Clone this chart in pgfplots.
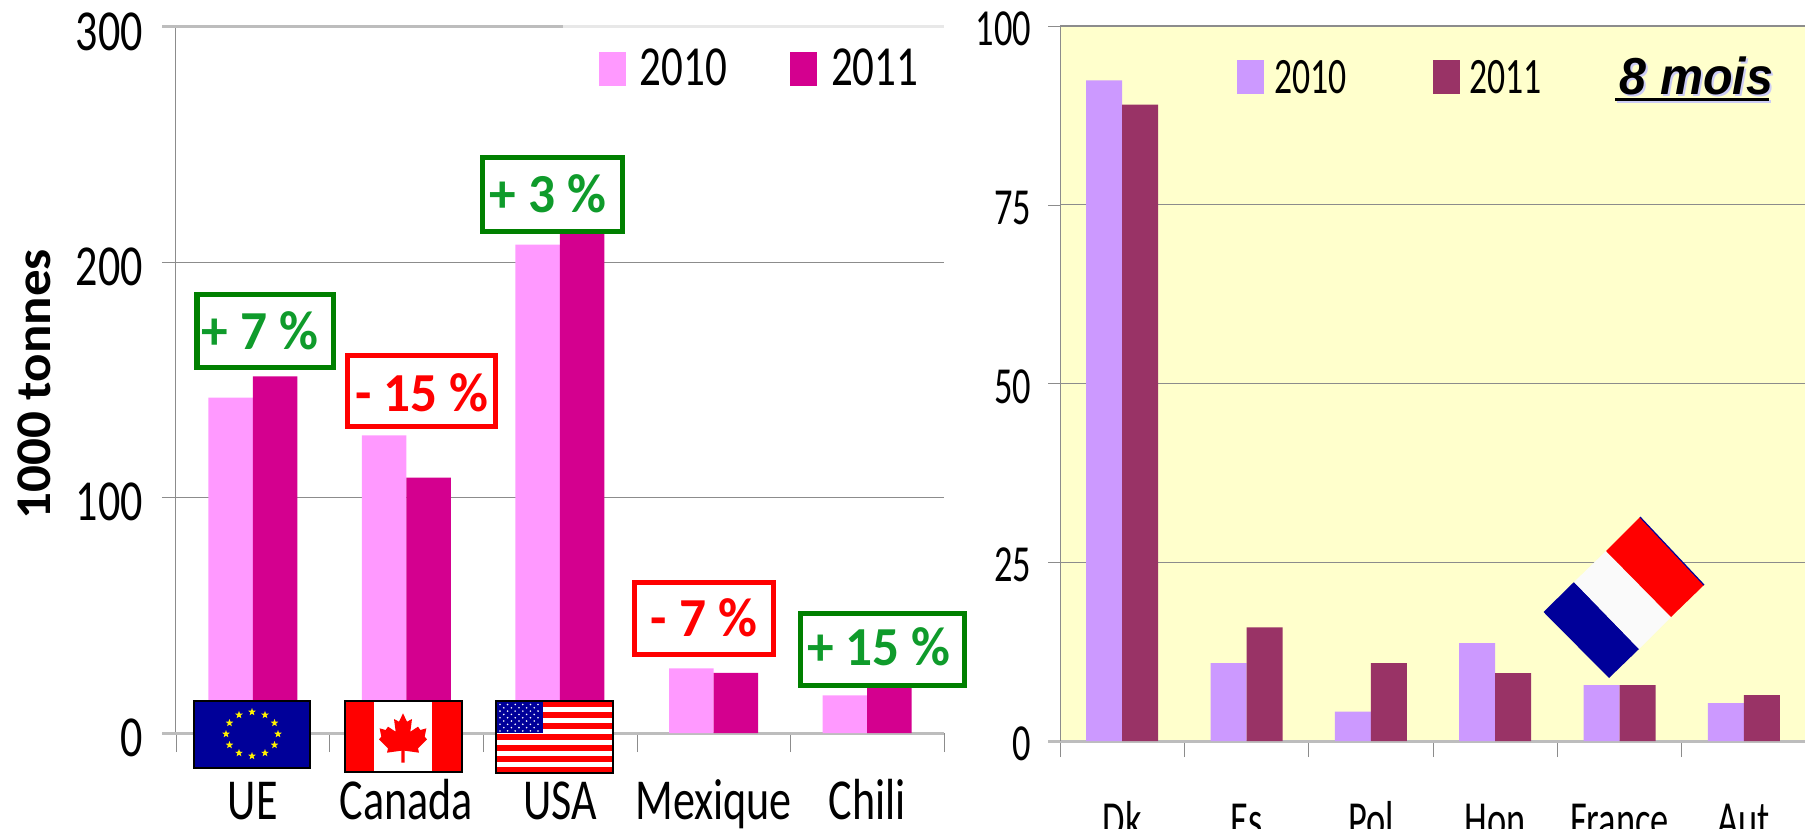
\documentclass[border=0pt]{standalone}
\usepackage{pgfplots}
\pgfplotsset{compat=1.18}
\usepackage{fontspec}
\usetikzlibrary{shapes.geometric}
\setmainfont{Carlito}
\newfontfamily\lfont[FakeStretch=0.76]{Carlito}
\newfontfamily\rfont[FakeStretch=0.70]{Carlito}
\newfontfamily\ylabfont[FakeStretch=1.06]{Carlito}
\newfontfamily\boxfont[FakeStretch=0.97]{Carlito}
\newfontfamily\arialf[FakeStretch=0.93]{Liberation Sans}
\definecolor{lA}{HTML}{FF99FF}
\definecolor{lB}{HTML}{D4008F}
\definecolor{rA}{HTML}{CC99FF}
\definecolor{rB}{HTML}{993366}
\definecolor{bg}{HTML}{FFFFCC}
\definecolor{axg}{HTML}{BDBDBD}
\definecolor{grd}{HTML}{8C8C8C}
\definecolor{gbox}{HTML}{008000}
\definecolor{gtxt}{HTML}{0F9B2B}
\definecolor{fblue}{HTML}{000099}
\pgfplotstableread{
x a b
0 142.5 151.5
1 126.5 108.5
2 207.5 214
3 27.5 25.5
4 16 19.5
}\lefttab
\pgfplotstableread{
x a b
0 92.4 89.0
1 10.9 15.9
2 4.1 10.9
3 13.7 9.5
4 7.8 7.8
5 5.3 6.4
}\righttab
\pgfplotsset{common/.style={
  scale only axis, ybar=0pt, axis x line*=bottom, axis y line*=left,
  xmin=-0.5, xtick=data, ymin=0,
  xtick style={draw=none}, ytick style={draw=grd},
  minor x tick style={draw=grd},
  tick align=outside,
  ymajorgrids, y grid style={draw=grd, line width=0.6pt},
  y axis line style={draw=grd,line width=0.5pt,-},
  x axis line style={draw=axg,line width=1.5pt,-},
  /pgf/number format/assume math mode=true,
  legend cell align=left,
  legend image code/.code={\path[#1,draw=none] (0pt,-0.5pt) rectangle (13.5pt,16.5pt);},
}}
\begin{document}
\begin{tikzpicture}
\path[use as bounding box, clip] (0,0) rectangle (902.5pt,-414.5pt);
\begin{axis}[common, at={(88pt,-366.5pt)}, anchor=south west,
  width=384pt, height=353pt, xmax=4.5, ymax=300,
  bar width=22.25pt,
  ytick={0,100,200,300}, xticklabels={UE,Canada,USA,Mexique,Chili},
  minor xtick={-0.5,0.5,...,4.5}, minor tick length=9.5pt, major tick length=7pt,
  yticklabel style={font=\lfont\fontsize{29}{32}\selectfont, xshift=-6pt, yshift=-2.25pt},
  xticklabel style={font=\lfont\fontsize{29}{32}\selectfont, anchor=base, yshift=-36pt},
  ylabel={\textbf{1000 tonnes}},
  y label style={font=\ylabfont\fontsize{25}{28}\selectfont, at={(axis description cs:-0.184,0.494)}, anchor=center, rotate=0},
  legend columns=2,
  legend style={at={(rel axis cs:0.55,0.970)}, anchor=north west, draw=none, fill=none,
    inner sep=0pt, font=\lfont\fontsize{28.3}{32}\selectfont,
    nodes={inner sep=0pt, anchor=base west},
    /tikz/every even column/.append style={column sep=31.5pt},
    /tikz/every odd column/.append style={column sep=7pt}},
]
\addplot[draw=none, fill=lA] table[x=x,y=a] {\lefttab};
\addplot[draw=none, fill=lB] table[x=x,y=b] {\lefttab};
\legend{2010,2011}
\end{axis}
\begin{axis}[common, at={(530pt,-370.5pt)}, anchor=south west,
  width=373pt, height=357.5pt, xmax=5.5, ymax=100,
  bar width=18pt,
  axis background/.style={fill=bg},
  ytick={0,25,50,75,100}, xticklabels={Dk,Es,Pol,Hon,France,Aut},
  minor xtick={-0.5,0.5,...,5.5}, minor tick length=8pt, major tick length=6pt,
  yticklabel style={font=\rfont\fontsize{26}{28}\selectfont, xshift=-5pt, yshift=-1.5pt},
  xticklabel style={font=\rfont\fontsize{26}{28}\selectfont, anchor=base, yshift=-42pt},
  legend columns=2,
  legend style={at={(rel axis cs:0.237,0.953)}, anchor=north west, draw=none, fill=none,
    inner sep=0pt, font=\rfont\fontsize{25.5}{28}\selectfont,
    nodes={inner sep=0pt, anchor=base west},
    /tikz/every even column/.append style={column sep=43pt},
    /tikz/every odd column/.append style={column sep=5pt}},
]
\addplot[draw=none, fill=rA] table[x=x,y=a] {\righttab};
\addplot[draw=none, fill=rB] table[x=x,y=b] {\righttab};
\legend{2010,2011}
\end{axis}
\begin{scope}[x=0.5pt,y=-0.5pt]
% heavier axis rules
\draw[axg,line width=1.5pt] (162,27)--(563,27);
\draw[black!9,line width=1.5pt] (563,27)--(944,27);
\draw[axg,line width=1.5pt] (162,733)--(176,733);
\draw[axg,line width=1.5pt] (1048,741)--(1060,741);
% percentage boxes
\foreach \xa/\ya/\xb/\yb/\bc/\tc/\tx/\ty/\lab in {
 197/294.5/333.5/367.5/gbox/gtxt/260/349/{+ 7 \%},
 347.5/355.5/495.5/426.5/red/red/422/411/{- 15 \%},
 482.5/157.5/622.5/231.5/gbox/gtxt/548/213/{+ 3 \%},
 634.5/582.5/773.5/654.5/red/red/704/636/{- 7 \%},
 800.5/613.5/964.5/685.5/gbox/gtxt/879/665/{+ 15 \%}}{
  \draw[\bc,fill=white,line width=2.9pt] (\xa,\ya) rectangle (\xb,\yb);
  \node[anchor=base,inner sep=0pt,text=\tc,font=\boxfont\bfseries\fontsize{27.5}{30}\selectfont] at (\tx,\ty) {\lab};
}
% EU flag
\fill[fblue] (194,701) rectangle (310,768);
\foreach \a in {0,30,...,330}{
  \node[star,star points=5,star point ratio=2.4,fill=yellow,draw=none,minimum size=4pt,inner sep=0pt]
    at ({252+26*cos(\a)},{734+22*sin(\a)}) {};
}
\draw[black,line width=0.75pt] (194,701) rectangle (310,768);
% Canada flag
\fill[red] (345,701) rectangle (462,772);
\fill[white] (374,701) rectangle (432,772);
\fill[red,xshift=403*0.5pt,yshift=-680*0.5pt,x=0.1667pt,y=-0.1667pt]
  (0,100)--(12,125)--(27,117)--(22,155)--(45,140)--(52,150)--(70,145)--(65,170)--(72,178)--(45,205)--(48,218)--(5,212)--(5,248)
  --(-5,248)--(-5,212)--(-48,218)--(-45,205)--(-72,178)--(-65,170)--(-70,145)--(-52,150)--(-45,140)--(-22,155)--(-27,117)--(-12,125)--cycle;
\draw[black,line width=0.75pt] (345,701) rectangle (462,772);
% USA flag
\fill[white] (496,701) rectangle (613,773);
\foreach \i in {0,2,...,12}{
  \fill[red] (496,{701+\i*5.54}) rectangle (613,{701+(\i+1)*5.54});
}
\fill[fblue] (496,701) rectangle (543,733);
\foreach \r in {0,...,8}{
  \pgfmathtruncatemacro{\n}{mod(\r,2)==0 ? 5 : 4}
  \foreach \c in {0,...,\n}{
    \fill[white] ({500+\c*7.6+(mod(\r,2)==0?0:3.8)},{704.5+\r*3.3}) circle (0.9);
  }
}
\draw[black,line width=0.75pt] (496,701) rectangle (613,773);
% French flag
\fill[fblue] (1543.5,612)--(1574,582)--(1639,649)--(1609,678)--cycle;
\fill[white!98!black] (1574,582)--(1606,551)--(1671,617)--(1639,649)--cycle;
\fill[red] (1606,551)--(1640,517)--(1704,585)--(1671,617)--cycle;
\draw[fblue,line width=0.6pt] (1640,517)--(1704,585);
% 8 mois
\node[anchor=base west,inner sep=0pt,text=black!20!blue!20!white,font=\arialf\bfseries\itshape\fontsize{26}{28}\selectfont] at (1621.5,96.5) {8 mois};
\draw[black!20!blue!20!white,line width=1.5pt] (1616.5,102)--(1771,102);
\node[anchor=base west,inner sep=0pt,font=\arialf\bfseries\itshape\fontsize{26}{28}\selectfont] at (1619.5,94.5) {8 mois};
\draw[black,line width=1.5pt] (1615,100)--(1769,100);
\end{scope}
\end{tikzpicture}
\end{document}
